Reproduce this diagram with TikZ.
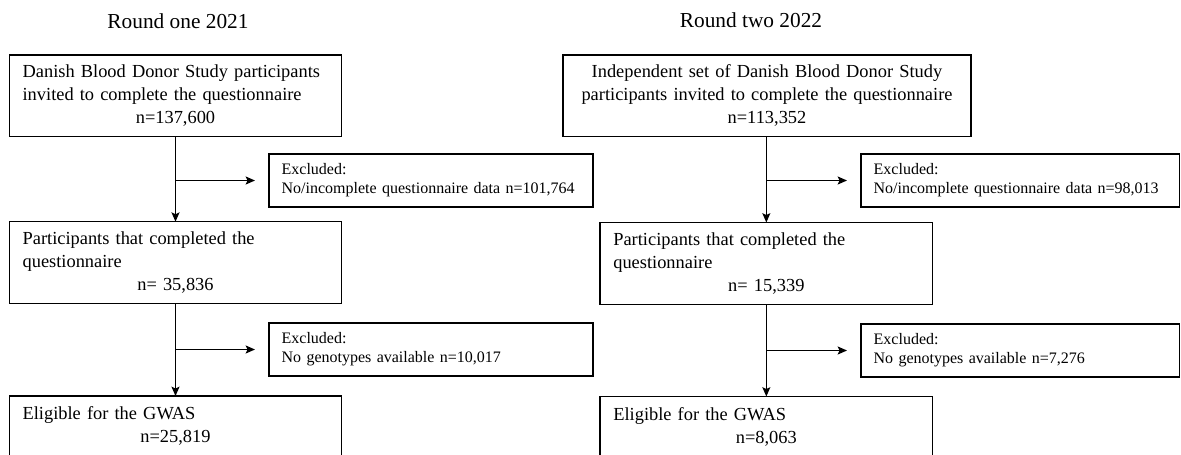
\documentclass[tikz,border=0pt]{standalone}
\usepackage{fontspec}
\setmainfont{Liberation Serif}
\usetikzlibrary{arrows.meta,calc}
\hfuzz=20pt
\hyphenpenalty=10000
\exhyphenpenalty=10000

\begin{document}
\begin{tikzpicture}[x=0.75pt,y=-0.75pt,
    box/.style={draw,line width=1pt,anchor=north west,outer sep=0pt,
      inner xsep=10pt,inner ysep=6pt,align=left,
      font=\fontsize{13.8}{17.25}\selectfont},
    excl/.style={draw,line width=1pt,anchor=north west,outer sep=0pt,
      inner xsep=9.5pt,inner ysep=5pt,align=left,minimum height=39.75pt,
      font=\fontsize{12}{14.2}\selectfont},
    head/.style={anchor=base,font=\fontsize{16}{19}\selectfont},
    arr/.style={line width=1pt,-{Stealth[length=7pt,width=6pt,inset=1.4pt]}}]
  \useasboundingbox (0,0) rectangle (1181,454);
  \clip (0,0) rectangle (1181,454);

  %round one
  \node[head] (head1) at (178,28) {Round one 2021};
  \node[box,text width=229.3pt,minimum height=61.3pt] (top1) at (9.3,55)
    {Danish Blood Donor Study participants\\invited to complete the questionnaire\\
     \makebox[\hsize]{n=137,600}};
  \node[excl,text width=224pt] (excl1) at (269,154)
    {Excluded:\\No/incomplete questionnaire data n=101,764};
  \node[box,text width=229.3pt,minimum height=61.3pt] (mid1) at (9.3,221.7)
    {Participants that completed the\\questionnaire\\
     \makebox[\hsize]{n= 35,836}};
  \node[excl,text width=224pt] (excl3) at (269,323)
    {Excluded:\\No genotypes available n=10,017};
  \node[box,text width=229.3pt,minimum height=45pt] (gwas1) at (9.3,396)
    {Eligible for the GWAS\\\makebox[\hsize]{n=25,819}};

  %round two
  \node[head] (head2) at (751,27) {Round two 2022};
  \node[box,text width=286pt,minimum height=61.3pt,align=center] (top2) at (563,55)
    {Independent set of Danish Blood Donor Study\\participants invited to complete the questionnaire\\
     n=113,352};
  \node[excl,text width=219.9pt] (excl2) at (861,154)
    {Excluded:\\No/incomplete questionnaire data n=98,013};
  \node[box,text width=229.5pt,minimum height=61.3pt] (mid2) at (600,222.5)
    {Participants that completed the\\questionnaire\\
     \makebox[\hsize]{n= 15,339}};
  \node[excl,text width=219.9pt] (excl4) at (861,324)
    {Excluded:\\No genotypes available n=7,276};
  \node[box,text width=229.5pt,minimum height=45pt] (gwas2) at (600,396.5)
    {Eligible for the GWAS\\\makebox[\hsize]{n=8,063}};

  %arrows
  \draw[arr] (top1.south) -- (mid1.north);
  \draw[arr] (mid1.south) -- (gwas1.north);
  \draw[arr,shorten >=10.5pt] (top1.south |- excl1.west) -- (excl1.west);
  \draw[arr,shorten >=10.5pt] (mid1.south |- excl3.west) -- (excl3.west);
  \draw[arr] (mid2.north |- top2.south) -- (mid2.north);
  \draw[arr] (mid2.south) -- (gwas2.north);
  \draw[arr,shorten >=10.5pt] (mid2.north |- excl2.west) -- (excl2.west);
  \draw[arr,shorten >=10.5pt] (mid2.south |- excl4.west) -- (excl4.west);
\end{tikzpicture}
\end{document}
